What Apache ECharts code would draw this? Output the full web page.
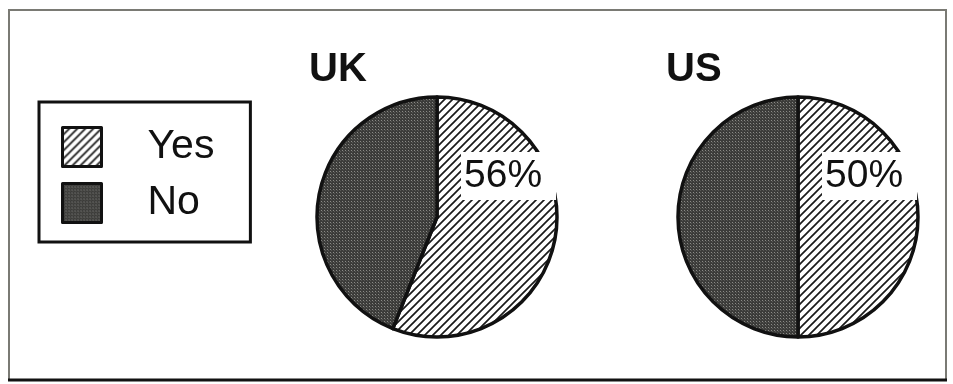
<!DOCTYPE html>
<html>
<head>
<meta charset="utf-8">
<script src="https://cdn.jsdelivr.net/npm/echarts@6/dist/echarts.min.js"></script>
<style>
  html, body { margin: 0; padding: 0; background: #fff; }
  #chart { width: 953px; height: 384px; }
</style>
</head>
<body>
<div id="chart"></div>
<script>
// data
const regions = ['UK', 'US'];
const answers = ['Yes', 'No'];
const yesShare = [56, 50];
const noShare = [44, 50];

// layout
const centers = [[437, 217], [798, 217]];
const titleLeft = [309, 666];
const radius = 120;
const font = '"Liberation Sans", Arial, sans-serif';

// hatch "/" pattern for Yes
function hatchPattern() {
  const c = document.createElement('canvas');
  c.width = 8; c.height = 8;
  const g = c.getContext('2d');
  g.fillStyle = '#fff';
  g.fillRect(0, 0, 8, 8);
  g.strokeStyle = '#1a1a1a';
  g.lineWidth = 1.7;
  g.beginPath();
  g.moveTo(-2, 10); g.lineTo(10, -2);
  g.moveTo(-2, 2); g.lineTo(2, -2);
  g.moveTo(6, 10); g.lineTo(10, 6);
  g.stroke();
  return c;
}

// dark stipple pattern for No
function dotPattern() {
  const c = document.createElement('canvas');
  c.width = 3; c.height = 3;
  const g = c.getContext('2d');
  g.fillStyle = '#3c3c3a';
  g.fillRect(0, 0, 3, 3);
  g.fillStyle = '#8a8a86';
  g.fillRect(0, 0, 1, 1);
  g.fillStyle = '#585855';
  g.fillRect(1, 1, 1, 1);
  return c;
}

const yesFill = { image: hatchPattern(), repeat: 'repeat' };
const noFill = { image: dotPattern(), repeat: 'repeat' };

const chart = echarts.init(document.getElementById('chart'));

const series = regions.map((name, i) => ({
  name: name,
  type: 'pie',
  center: centers[i],
  radius: radius,
  startAngle: 90,
  clockwise: true,
  silent: true,
  itemStyle: { borderColor: '#111', borderWidth: 3.5 },
  label: {
    show: true,
    position: 'inside',
    formatter: '{c}%',
    color: '#111',
    fontFamily: font,
    fontSize: 39,
    overflow: 'none',
    backgroundColor: '#fff',
    padding: [5, 14, 4, 3]
  },
  labelLine: { show: false },
  labelLayout: {
    x: centers[i][0] + 24,
    y: centers[i][1] - 41,
    align: 'left',
    verticalAlign: 'middle'
  },
  data: [
    { name: answers[0], value: yesShare[i], itemStyle: { color: yesFill } },
    { name: answers[1], value: noShare[i], itemStyle: { color: noFill }, label: { show: false } }
  ]
}));

const option = {
  animation: false,
  title: regions.map((name, i) => ({
    text: name,
    left: titleLeft[i],
    top: 50,
    padding: 0,
    textStyle: { fontFamily: font, fontSize: 40, fontWeight: 'bold', color: '#111' }
  })),
  legend: {
    orient: 'vertical',
    left: 39,
    top: 102,
    padding: [24, 36, 18, 22],
    backgroundColor: '#fff',
    borderColor: '#111',
    borderWidth: 3,
    itemWidth: 39,
    itemHeight: 39,
    itemGap: 14,
    icon: 'rect',
    itemStyle: { borderColor: '#111', borderWidth: 3 },
    textStyle: { fontFamily: font, fontSize: 41, color: '#111', padding: [0, 0, 0, 41] },
    data: answers
  },
  graphic: [
    {
      type: 'rect',
      shape: { x: 9, y: 10, width: 937, height: 370 },
      style: { fill: null, stroke: '#7a7a74', lineWidth: 2 }
    },
    {
      type: 'line',
      shape: { x1: 8, y1: 380, x2: 947, y2: 380 },
      style: { stroke: '#111', lineWidth: 3 }
    }
  ],
  series: series
};

chart.setOption(option);
</script>
</body>
</html>
